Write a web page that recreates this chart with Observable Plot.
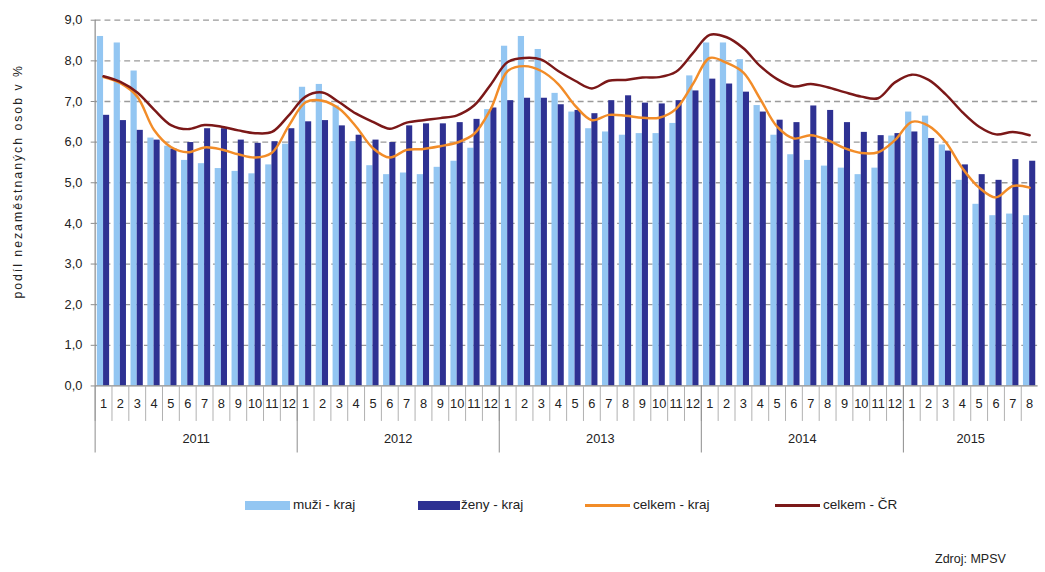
<!DOCTYPE html>
<html><head><meta charset="utf-8">
<script src="https://cdn.jsdelivr.net/npm/d3@7"></script>
<script src="https://cdn.jsdelivr.net/npm/@observablehq/plot@0.6"></script>
<style>
html,body{margin:0;padding:0;background:#fff;}
body{width:1045px;height:572px;overflow:hidden;position:relative;font-family:"Liberation Sans",Arial,sans-serif;color:#222;}
#chart{position:absolute;left:0;top:0;}
.lg{position:absolute;top:497px;font-size:13.5px;line-height:16px;white-space:nowrap;}
.sw{position:absolute;height:9px;top:501px;}
.ln{position:absolute;height:2.5px;top:504px;}
#src{position:absolute;left:935px;top:552px;font-size:12.5px;}
</style></head>
<body>
<div id="chart"></div>
<div class="sw" style="left:245px;width:45px;background:#93c6f2"></div>
<div class="lg" style="left:293px">muži - kraj</div>
<div class="sw" style="left:418px;width:42px;background:#2e3192"></div>
<div class="lg" style="left:461px">ženy - kraj</div>
<div class="ln" style="left:585px;width:45px;background:#f28c28"></div>
<div class="lg" style="left:633px">celkem - kraj</div>
<div class="ln" style="left:775px;width:45px;background:#7b1818"></div>
<div class="lg" style="left:823px">celkem - ČR</div>
<div id="src">Zdroj: MPSV</div>
<script>
const years = [2011, 2012, 2013, 2014, 2015];
const monthsPerYear = [12, 12, 12, 12, 8];
const yTicks = [0, 1, 2, 3, 4, 5, 6, 7, 8, 9];

const muzi = [
  8.60, 8.44, 7.75, 6.10, 5.90, 5.55, 5.47, 5.35, 5.28, 5.22, 5.44, 5.95,
  7.35, 7.42, 6.89, 6.01, 5.42, 5.20, 5.24, 5.20, 5.38, 5.53, 5.85, 6.80,
  8.36, 8.60, 8.28, 7.20, 6.74, 6.33, 6.25, 6.17, 6.21, 6.21, 6.46, 7.63,
  8.44, 8.44, 8.03, 6.90, 6.17, 5.69, 5.55, 5.41, 5.36, 5.20, 5.36, 6.15,
  6.74, 6.64, 5.93, 5.06, 4.47, 4.19, 4.23, 4.19
];
const zeny = [
  6.66, 6.53, 6.29, 6.05, 5.83, 5.99, 6.33, 6.33, 6.05, 5.97, 6.01, 6.33,
  6.50, 6.53, 6.40, 6.17, 6.05, 5.99, 6.40, 6.45, 6.45, 6.48, 6.56, 6.84,
  7.02, 7.08, 7.08, 6.92, 6.78, 6.70, 7.02, 7.14, 6.96, 6.94, 7.02, 7.26,
  7.55, 7.43, 7.23, 6.74, 6.54, 6.48, 6.89, 6.78, 6.48, 6.24, 6.16, 6.21,
  6.25, 6.09, 5.78, 5.44, 5.20, 5.06, 5.57, 5.53
];
const celkemKraj = [
  7.60, 7.45, 7.12, 6.30, 5.88, 5.75, 5.87, 5.82, 5.70, 5.62, 5.74, 6.40,
  6.98, 7.02, 6.82, 6.38, 5.85, 5.62, 5.81, 5.83, 5.90, 5.99, 6.20, 6.82,
  7.75, 7.87, 7.75, 7.43, 6.90, 6.54, 6.67, 6.65, 6.60, 6.60, 6.82, 7.43,
  8.07, 7.95, 7.71, 7.06, 6.38, 6.09, 6.17, 6.05, 5.85, 5.73, 5.75, 6.05,
  6.50, 6.40, 6.01, 5.36, 4.88, 4.64, 4.92, 4.88
];
const celkemCR = [
  7.62, 7.48, 7.22, 6.80, 6.42, 6.32, 6.42, 6.38, 6.29, 6.22, 6.25, 6.66,
  7.12, 7.22, 6.98, 6.70, 6.50, 6.33, 6.48, 6.54, 6.59, 6.66, 6.90, 7.42,
  7.97, 8.07, 8.03, 7.75, 7.51, 7.32, 7.51, 7.53, 7.59, 7.60, 7.73, 8.19,
  8.64, 8.58, 8.31, 7.87, 7.55, 7.37, 7.43, 7.35, 7.23, 7.12, 7.08, 7.47,
  7.66, 7.53, 7.18, 6.74, 6.38, 6.19, 6.25, 6.17
];

// build month/year table
const rows = [];
years.forEach((y, yi) => {
  for (let m = 1; m <= monthsPerYear[yi]; m++) {
    const i = rows.length;
    rows.push({i, year: y, month: m, muzi: muzi[i], zeny: zeny[i], kraj: celkemKraj[i], cr: celkemCR[i]});
  }
});
const n = rows.length;
const yearStarts = [];
const yearCenters = [];
{
  let s = 0;
  years.forEach((y, yi) => { yearStarts.push(s); yearCenters.push(s + monthsPerYear[yi] / 2); s += monthsPerYear[yi]; });
}
const monthBounds = d3.range(0, n);
const fmt = d => d.toFixed(1).replace(".", ",");

const W = 1060, H = 470;
const chart = Plot.plot({
  width: W, height: H,
  marginLeft: 96, marginRight: W - 1052.5, marginTop: 20, marginBottom: 79,
  style: {fontFamily: "'Liberation Sans', Arial, sans-serif", fontSize: "12px", color: "#222", background: "transparent"},
  x: {type: "linear", domain: [0, n]},
  y: {domain: [0, 9]},
  marks: [
    Plot.ruleY(yTicks.filter(d => d > 0), {stroke: "#9a9a9a", strokeWidth: 1.3, strokeDasharray: "6,4"}),
    Plot.rectY(rows, {x1: d => d.i + 0.13, x2: d => d.i + 0.5, y: "muzi", fill: "#93c6f2"}),
    Plot.rectY(rows, {x1: d => d.i + 0.5, x2: d => d.i + 0.86, y: "zeny", fill: "#2e3192"}),
    Plot.ruleY([0], {stroke: "#8a8a8a", strokeWidth: 1.2}),
    Plot.ruleX([0], {stroke: "#8a8a8a", strokeWidth: 1.2}),
    Plot.line(rows, {x: d => d.i + 0.5, y: "kraj", stroke: "#f28c28", strokeWidth: 2.5, curve: "catmull-rom"}),
    Plot.line(rows, {x: d => d.i + 0.5, y: "cr", stroke: "#7b1818", strokeWidth: 2.5, curve: "catmull-rom"}),
    Plot.axisY(yTicks, {tickFormat: fmt, tickSize: 4, tickPadding: 9, fontSize: 13, stroke: "#8a8a8a", label: null}),
    Plot.axisX(monthBounds, {tickSize: 36, tickFormat: () => "", stroke: "#b0b0b0", label: null}),
    Plot.axisX(yearStarts, {tickSize: 68, tickFormat: () => "", stroke: "#8a8a8a", label: null}),
    Plot.axisX(rows.map(d => d.i + 0.5), {tickSize: 0, tickPadding: 13, fontSize: 13, tickFormat: d => String(rows[Math.floor(d)].month), label: null}),
    Plot.axisX(yearCenters, {tickSize: 0, tickPadding: 49, fontSize: 13, tickFormat: (d, k) => String(years[k]), label: null}),
    Plot.text(["podíl nezaměstnaných osob v %"], {frameAnchor: "left", textAnchor: "middle", rotate: -90, dx: -78, dy: -22, fontSize: 12.5, className: "ytitle"})
  ]
});
chart.querySelectorAll(".ytitle text").forEach(t => t.setAttribute("letter-spacing", "2"));
document.getElementById("chart").appendChild(chart);
</script>
</body></html>
